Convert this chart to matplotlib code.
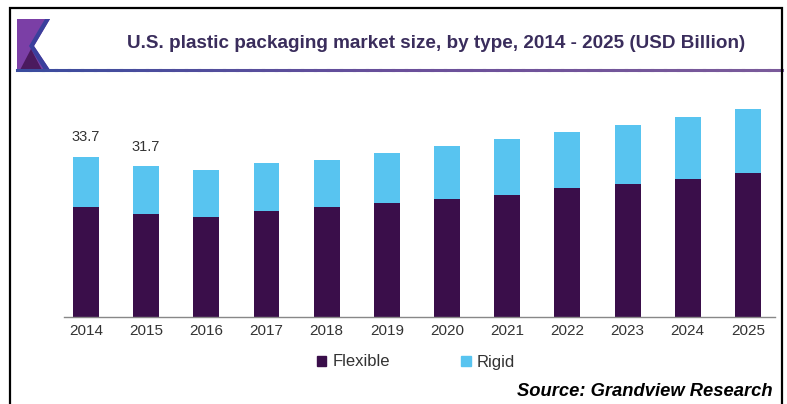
import matplotlib
matplotlib.use("Agg")
import matplotlib.pyplot as plt
from matplotlib.patches import Polygon, Patch
from matplotlib.lines import Line2D
from matplotlib.collections import LineCollection
import numpy as np

years = ["2014", "2015", "2016", "2017", "2018", "2019", "2020", "2021", "2022", "2023", "2024", "2025"]
flexible = [23.2, 21.7, 21.1, 22.3, 23.2, 24.0, 24.8, 25.7, 27.2, 28.0, 29.1, 30.3]
rigid = [10.5, 10.0, 9.8, 10.1, 9.9, 10.5, 11.2, 11.8, 11.7, 12.4, 13.0, 13.5]
label_years = ["2014", "2015"]
label_values = ["33.7", "31.7"]

FLEX_C = "#3a0e4a"
RIGID_C = "#58c4f0"

W, H = 787, 404
fig = plt.figure(figsize=(W / 100, H / 100), dpi=100)
plt.rcParams['font.family'] = ['Liberation Sans', 'DejaVu Sans']

def fx(px):
    return px / W

def fy(py):
    return 1 - py / H

ax = fig.add_axes([fx(64), fy(317), fx(775) - fx(64), fy(100) - fy(317)])
x = np.arange(len(years))
ax.bar(x, flexible, width=0.43, color=FLEX_C, label="Flexible")
ax.bar(x, rigid, width=0.43, bottom=flexible, color=RIGID_C, label="Rigid")
for yr, lab in zip(label_years, label_values):
    i = years.index(yr)
    ax.text(x[i], float(lab) + 2.7, lab, ha="center", va="bottom", fontsize=10.5, color="#333333")

ax.set_xlim(-0.365, 11.45)
ax.set_ylim(0, 45.7)
ax.set_xticks(x)
ax.set_xticklabels(years, fontsize=11, color="#333333")
ax.tick_params(axis="x", length=0, pad=5)
ax.set_yticks([])
for s in ["top", "right", "left"]:
    ax.spines[s].set_visible(False)
ax.spines["bottom"].set_color("#888888")
ax.spines["bottom"].set_linewidth(1.0)

handles = [Patch(color=FLEX_C, label="Flexible"), Patch(color=RIGID_C, label="Rigid")]
fig.legend(handles=handles, loc="center", bbox_to_anchor=(fx(416), fy(362)), ncol=2,
           frameon=False, fontsize=12, handlelength=0.55, handleheight=0.55,
           handletextpad=0.35, columnspacing=4.3, labelcolor="#333333")

# Title
fig.text(fx(436), fy(43), "U.S. plastic packaging market size, by type, 2014 - 2025 (USD Billion)",
         ha="center", va="center", fontsize=13.6, fontweight="bold", color="#3a2d5c")

# Source
fig.text(fx(773), fy(392), "Source: Grandview Research", ha="right", va="center",
         fontsize=13.2, fontweight="bold", fontstyle="italic", color="black")

# Title underline with gradient blue -> purple
xs = np.linspace(fx(17), fx(782), 60)
segs = [[(xs[i], fy(69.5)), (xs[i + 1], fy(69.5))] for i in range(len(xs) - 1)]
cmap = matplotlib.colors.LinearSegmentedColormap.from_list("g", ["#3a4c9e", "#6a4f9a", "#7a5a9a"])
lc = LineCollection(segs, colors=[cmap(t) for t in np.linspace(0, 1, len(segs))],
                    linewidths=2.2, transform=fig.transFigure, capstyle="projecting")
fig.add_artist(lc)

# Logo
def poly(pts, color):
    p = Polygon([(fx(a), fy(b)) for a, b in pts], closed=True, facecolor=color,
                edgecolor="none", transform=fig.transFigure)
    fig.add_artist(p)

poly([(17, 19), (50, 19), (34, 46), (50, 70), (17, 70)], "#7b3fa6")
poly([(45, 19), (50, 19), (34, 46), (50, 70), (44, 70), (29, 46)], "#3a3f9c")
poly([(20, 70), (31, 49), (42, 70)], "#4b1a5e")

# Border
bx = [fx(10), fx(10), fx(782), fx(782)]
by = [fy(410), fy(8), fy(8), fy(410)]
fig.add_artist(Line2D(bx, by, color="black", linewidth=1.6, transform=fig.transFigure,
                      solid_joinstyle="miter"))

fig.savefig("out.png", dpi=100)
